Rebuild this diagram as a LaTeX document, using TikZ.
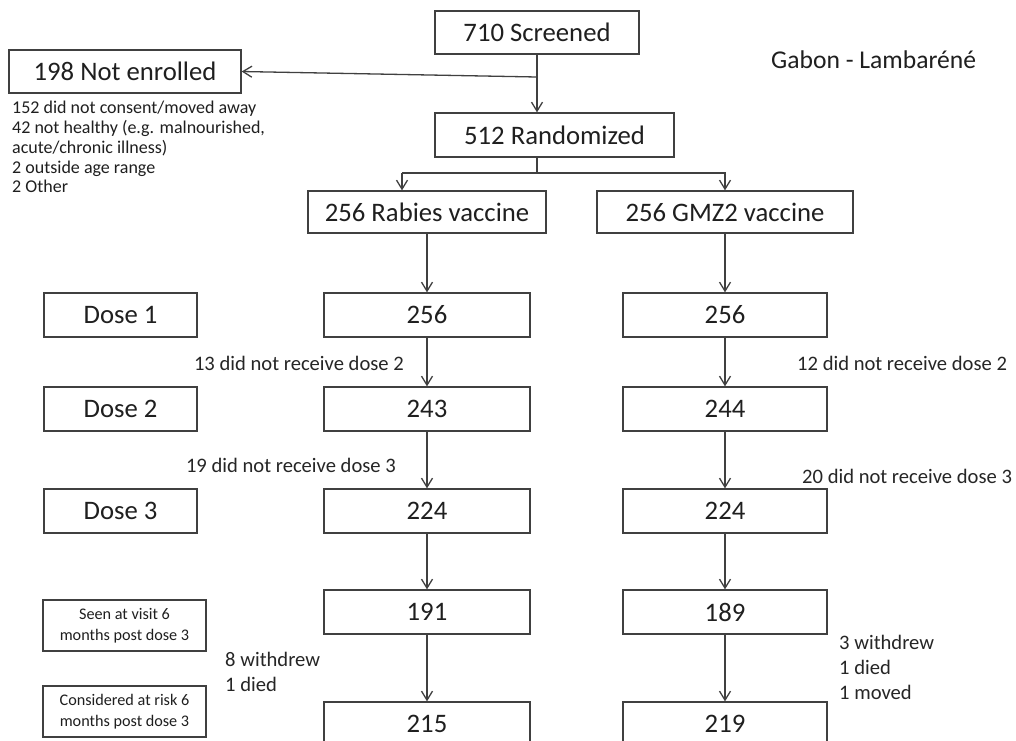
\documentclass[tikz,border=0pt]{standalone}
\usepackage{fontspec}
\setmainfont{Carlito}
\usetikzlibrary{arrows.meta}
\newcommand{\bigfont}{\fontsize{26.7}{32}\selectfont}
\newcommand{\notefont}{\fontsize{20.6}{25}\selectfont}

\begin{document}
\begin{tikzpicture}[
                x=1pt, y=-1pt,
                box/.style={draw=black!75, line width=1.3pt, inner sep=0pt, minimum height=44pt, text=black!88, font=\bigfont},
                dosebox/.style={box, minimum width=153pt},
                smallbox/.style={box, minimum width=163pt, minimum height=51pt, align=center, font=\fontsize{16.2}{21}\selectfont},
                lcol/.style={box, minimum width=206pt},
                rcol/.style={box, minimum width=204pt},
                note/.style={inner sep=0pt, text=black!85, font=\notefont},
                line/.style={draw=black!75, line width=1.3pt},
                arr/.style={line, -{Straight Barb[length=9pt,width=11pt]}}
            ]
            \useasboundingbox[fill=white] (0,0) rectangle (1016,740);
            % top of the flow
            \node[box, minimum width=204pt, minimum height=43pt] (scr) at (537,32.5) {710 Screened};
            \node[box, minimum width=232pt, minimum height=43pt] (ne) at (125,71.5) {198 Not enrolled};
            \node[box, minimum width=239pt] (rnd) at (554.5,135) {512 Randomized};
            \node[box, minimum width=238pt, minimum height=42pt] (rab) at (427,212) {256 Rabies vaccine};
            \node[box, minimum width=256pt, minimum height=42pt] (gmz) at (725,212) {256 GMZ2 vaccine};
            \node[inner sep=0pt, anchor=west, text=black!88, font=\fontsize{25.6}{30}\selectfont] (site) at (771,60) {Gabon - Lambaréné};
            \node[inner sep=0pt, anchor=north west, align=left, text=black!88, font=\fontsize{18}{19.8}\selectfont] (nelist) at (12,101)
                {152 did not consent/moved away\\42 not healthy (e.g. malnourished,\\acute/chronic illness)\\2 outside age range\\2 Other};
            % row labels
            \node[dosebox] (d1) at (120.5,315) {Dose 1};
            \node[dosebox] (d2) at (120.5,409) {Dose 2};
            \node[dosebox] (d3) at (120.5,511) {Dose 3};
            \node[smallbox] (seen) at (124.5,625.5) {Seen at visit 6\\months post dose 3};
            \node[smallbox] (risk) at (124.5,711.5) {Considered at risk 6\\months post dose 3};
            % rabies arm
            \node[lcol] (r1) at (427,315) {256};
            \node[lcol] (r2) at (427,409) {243};
            \node[lcol] (r3) at (427,511) {224};
            \node[lcol] (r4) at (427,612) {191};
            \node[lcol] (r5) at (427,724) {215};
            % GMZ2 arm
            \node[rcol] (g1) at (725,315) {256};
            \node[rcol] (g2) at (725,409) {244};
            \node[rcol] (g3) at (725,511) {224};
            \node[rcol] (g4) at (725,612) {189};
            \node[rcol] (g5) at (725,724) {219};
            % losses
            \node[note, anchor=east] (skip13) at (404,363) {13 did not receive dose 2};
            \node[note, anchor=west] (skip12) at (797,363) {12 did not receive dose 2};
            \node[note, anchor=east] (skip19) at (396,465) {19 did not receive dose 3};
            \node[note, anchor=west] (skip20) at (802,476) {20 did not receive dose 3};
            \node[note, anchor=west, align=left] (lossr) at (225,671.5) {8 withdrew\\1 died};
            \node[note, anchor=west, align=left] (lossg) at (839,667.5) {3 withdrew\\1 died\\1 moved};
            % connectors
            \coordinate (split) at (537,77);
            \coordinate (fork) at (537,173);
            \coordinate (forkl) at (402,173);
            \draw[arr] (scr.south) -- (scr.south |- rnd.north);
            \draw[arr] (split) -- (ne.east);
            \draw[line] (rnd.south -| fork) -- (fork);
            \draw[arr] (forkl) -- (forkl |- rab.north);
            \draw[arr] (forkl) -| (gmz.north);
            \draw[arr] (rab) -- (r1);
            \draw[arr] (r1) -- (r2);
            \draw[arr] (r2) -- (r3);
            \draw[arr] (r3) -- (r4);
            \draw[arr] (r4) -- (r5);
            \draw[arr] (gmz) -- (g1);
            \draw[arr] (g1) -- (g2);
            \draw[arr] (g2) -- (g3);
            \draw[arr] (g3) -- (g4);
            \draw[arr] (g4) -- (g5);
        \end{tikzpicture}
\end{document}
